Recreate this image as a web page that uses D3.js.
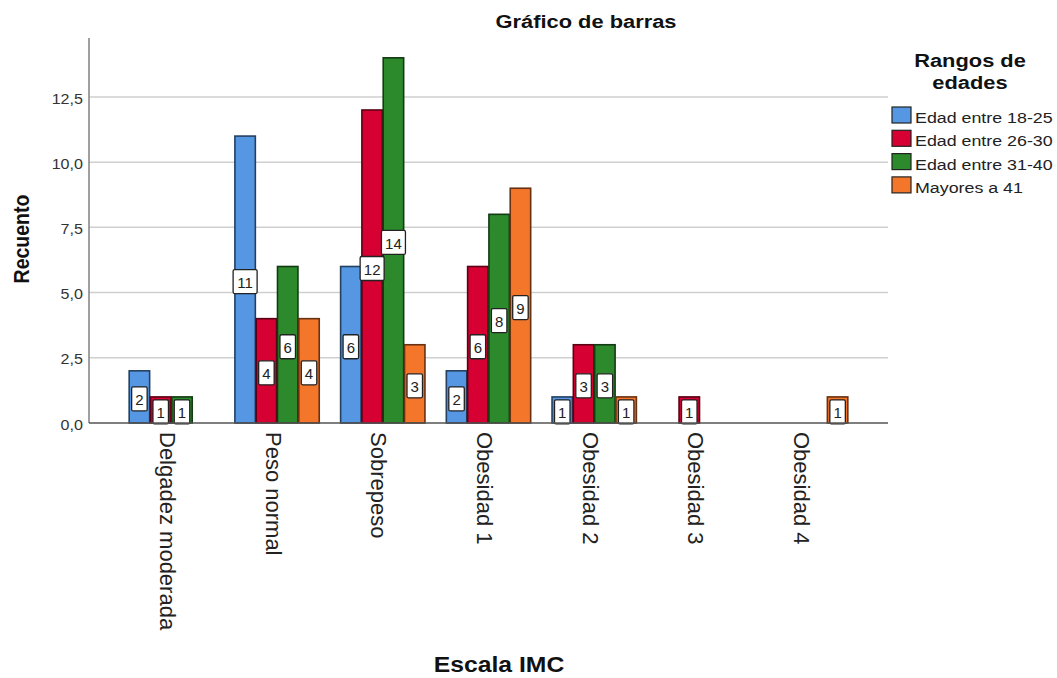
<!DOCTYPE html>
<html><head><meta charset="utf-8">
<script src="https://cdn.jsdelivr.net/npm/d3@7"></script>
<style>body{margin:0;background:#fff}svg{display:block}text{font-family:"Liberation Sans",Arial,sans-serif}</style>
</head><body>
<svg id="c" width="1057" height="678"></svg>
<script>
const categories = ["Delgadez moderada","Peso normal","Sobrepeso","Obesidad 1","Obesidad 2","Obesidad 3","Obesidad 4"];
const seriesNames = ["Edad entre 18-25","Edad entre 26-30","Edad entre 31-40","Mayores a 41"];
const s1825 = [2,11,6,2,1,0,0];
const s2630 = [1,4,12,6,3,1,0];
const s3140 = [1,6,14,8,3,0,0];
const s41 = [0,4,3,9,1,0,1];
const seriesColors = ["#5597e2","#d60032","#2c8a2c","#f4762b"];
const yTicks = [0,2.5,5,7.5,10,12.5];
const chartTitle = "Gráfico de barras";
const xTitle = "Escala IMC";
const yTitle = "Recuento";
const legendTitle = ["Rangos de","edades"];

const seriesValues = [s1825,s2630,s3140,s41];
const svg = d3.select("#c");
const SX = 1.15;
const pLeft = 89, pRight = 888, pTop = 38, pBottom = 423;

const x = d3.scaleBand().domain(categories).range([pLeft,pRight]).paddingInner(0.186).paddingOuter(0.372);
const xs = d3.scaleBand().domain(seriesNames).range([0,x.bandwidth()]).padding(0.04);
const y = d3.scaleLinear().domain([0,14.76]).range([pBottom,pTop]);

// gridlines
svg.append("g").selectAll("line").data(yTicks.filter(d=>d>0)).join("line")
  .attr("x1",pLeft).attr("x2",pRight).attr("y1",d=>y(d)).attr("y2",d=>y(d))
  .attr("stroke","#cfcfcf").attr("stroke-width",1.5);

// y axis
const yAxis = svg.append("g").attr("transform",`translate(${pLeft},0)`)
  .call(d3.axisLeft(y).tickValues(yTicks).tickSize(0).tickPadding(6).tickFormat(d=>d3.format(".1f")(d).replace(".",",")));
yAxis.select(".domain").remove();
yAxis.selectAll(".tick text").each(function(){
  d3.select(this).attr("x",0).attr("dy",null).attr("dominant-baseline","central")
   .attr("font-size",14).attr("fill","#333").attr("font-family","'Liberation Sans',Arial,sans-serif")
   .attr("transform",`translate(-6,1) scale(${SX},1)`);
});
svg.append("line").attr("x1",pLeft).attr("x2",pLeft).attr("y1",pTop).attr("y2",pBottom)
  .attr("stroke","#808080").attr("stroke-width",1.5);

// bars
const data = [];
categories.forEach((c,i)=>seriesNames.forEach((s,j)=>{ if(seriesValues[j][i]>0) data.push({c,s,j,v:seriesValues[j][i]}); }));
const g = svg.append("g");
g.selectAll("rect.bar").data(data).join("rect").attr("class","bar")
  .attr("x",d=>x(d.c)+xs(d.s)).attr("width",xs.bandwidth())
  .attr("y",d=>y(d.v)).attr("height",d=>y(0)-y(d.v))
  .attr("fill",d=>seriesColors[d.j])
  .attr("stroke",d=>d3.color(seriesColors[d.j]).darker(2.4))
  .attr("stroke-width",1.6);

// x axis baseline
svg.append("line").attr("x1",pLeft).attr("x2",pRight).attr("y1",pBottom).attr("y2",pBottom)
  .attr("stroke","#555").attr("stroke-width",1.5);

// value labels
const lab = g.selectAll("g.lab").data(data).join("g").attr("class","lab")
  .attr("transform",d=>`translate(${x(d.c)+xs(d.s)+xs.bandwidth()/2},${Math.min((y(d.v)+y(0))/2+2, y(0)-11)})`);
lab.append("rect")
  .attr("x",d=>-(String(d.v).length*8.5+7)/2).attr("width",d=>String(d.v).length*8.5+7)
  .attr("y",-12).attr("height",24).attr("rx",1.5)
  .attr("fill","#fff").attr("stroke","#222").attr("stroke-width",1.3);
lab.append("text").attr("text-anchor","middle").attr("dominant-baseline","central").attr("y",1)
  .attr("font-size",15).attr("fill","#222").text(d=>d.v);

// category labels
svg.append("g").selectAll("text").data(categories).join("text")
  .attr("transform",d=>`translate(${x(d)+x.bandwidth()/2-4},432) rotate(90)`)
  .attr("dominant-baseline","central").attr("font-size",22).attr("fill","#222").text(d=>d);

// titles
svg.append("text").attr("transform",`translate(586,28) scale(${SX},1)`).attr("text-anchor","middle")
  .attr("font-size",19).attr("font-weight","bold").attr("fill","#111").text(chartTitle);
svg.append("text").attr("transform",`translate(499,672) scale(${SX},1)`).attr("text-anchor","middle")
  .attr("font-size",21.5).attr("font-weight","bold").attr("fill","#111").text(xTitle);
svg.append("text").attr("transform",`translate(29,239) scale(${SX},1) rotate(-90)`).attr("text-anchor","middle")
  .attr("font-size",19.5).attr("font-weight","bold").attr("fill","#111").text(yTitle);

// legend
const lg = svg.append("g");
lg.selectAll("text.lt").data(legendTitle).join("text").attr("class","lt")
  .attr("transform",(d,i)=>`translate(970,${67+i*22}) scale(${SX},1)`).attr("text-anchor","middle")
  .attr("font-size",19).attr("font-weight","bold").attr("fill","#111").text(d=>d);
const li = lg.selectAll("g.li").data(seriesNames).join("g").attr("class","li")
  .attr("transform",(d,i)=>`translate(892,${107+i*23.3})`);
li.append("rect").attr("width",19).attr("height",16).attr("fill",(d,i)=>seriesColors[i])
  .attr("stroke","#222").attr("stroke-width",1.2);
li.append("text").attr("transform",`translate(23,16) scale(${SX},1)`).attr("font-size",15.5).attr("fill","#222").text(d=>d);
</script>
</body></html>
